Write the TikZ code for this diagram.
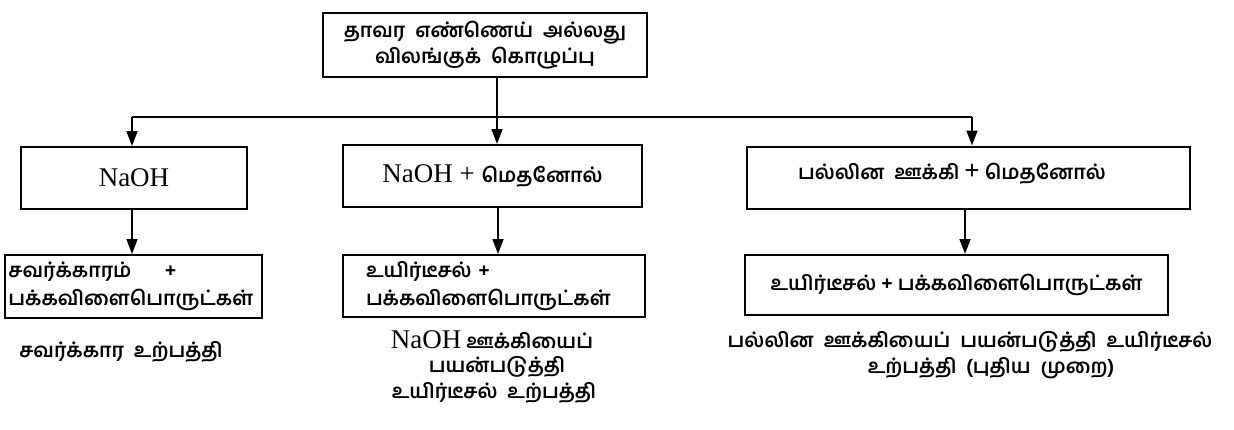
\documentclass[tikz,border=0pt]{standalone}
\usepackage{fontspec}
\setmainfont{Liberation Serif}
\newfontfamily\ta[Script=Tamil]{Hind Madurai}
\newfontfamily\lat{Liberation Serif}
\usetikzlibrary{arrows.meta}
\newcommand\latbig[1]{{\lat\mdseries\fontsize{27}{30}\selectfont #1}}
\begin{document}
\begin{tikzpicture}[x=1pt,y=-1pt,
  box/.style={draw,line width=2pt,inner sep=0pt,minimum height=#1},
  box/.default=62pt,
  conn/.style={line width=1.6pt},
  arr/.style={conn,-{Triangle[length=15pt,width=11pt]}},
  ttext/.style={font=\ta\bfseries\fontsize{20}{30}\selectfont},
  ltext/.style={font=\lat\fontsize{27}{30}\selectfont},
  lbl/.style={inner sep=0pt,align=center}]
\useasboundingbox (0,0) rectangle (1234,429);

% top box
\node[box=64pt,minimum width=324pt,ttext,align=center] (top) at (485,45)
  {தாவர\ \ எண்ணெய்\ \ அல்லது\\[-4pt]விலங்குக்\ \ கொழுப்பு};

% second row
\node[box,minimum width=226pt,ltext] (b1) at (134,178) {NaOH};
\node[box,minimum width=299pt,ttext] (b2) at (492.5,176) {\latbig{NaOH\ +\ }மெதனோல்};
\node[box,minimum width=443pt] (b3) at (968.5,177.5) {};
\node[ttext,anchor=west,inner sep=0pt] (b3t) at (798,174) {பல்லின\ \ ஊக்கி\ {\lat\fontsize{27}{30}\selectfont +}\ மெதனோல்};

% third row
\node[box=63pt,minimum width=257pt,ttext,text width=250pt,align=left] (c1) at (133.5,286.5)
  {சவர்க்காரம்\quad\ \ +\\[-2pt]பக்கவிளைபொருட்கள்};
\node[box=62pt,minimum width=302pt,ttext,text width=256pt,align=left] (c2) at (494,286)
  {உயிர்டீசல் +\\[-2pt]பக்கவிளைபொருட்கள்};
\node[box=60pt,minimum width=423pt,ttext] (c3) at (956.5,285)
  {உயிர்டீசல் + பக்கவிளைபொருட்கள்};

% connectors
\coordinate (jl) at (132,117);
\coordinate (jr) at (972,117);
\draw[conn] (jl) -- (jr);
\draw[arr] (jl) -- (jl |- b1.north);
\draw[arr] (jr) -- (jr |- b3.north);
\draw[arr] (top.south -| 497,0) -- (497,0 |- b2.north);
\draw[arr] (b1.south -| 132,0) -- (132,0 |- c1.north);
\draw[arr] (b2.south -| 498,0) -- (498,0 |- c2.north);
\draw[arr] (b3.south -| 965,0) -- (965,0 |- c3.north);

% captions
\node[lbl,ttext] (d1) at (121,352) {சவர்க்கார\ \ உற்பத்தி};
\node[lbl,ttext] (d2a) at (492,340) {\latbig{NaOH} ஊக்கியைப்};
\node[lbl,ttext] (d2b) at (497,367) {பயன்படுத்தி};
\node[lbl,ttext] (d2c) at (494,393) {உயிர்டீசல்\ \ உற்பத்தி};
\node[lbl,ttext] (d3a) at (970,342) {பல்லின\ \ ஊக்கியைப்\ \ பயன்படுத்தி\ \ உயிர்டீசல்};
\node[lbl,ttext] (d3b) at (991,368) {உற்பத்தி\ \ (புதிய\ \ முறை)};
\end{tikzpicture}
\end{document}
